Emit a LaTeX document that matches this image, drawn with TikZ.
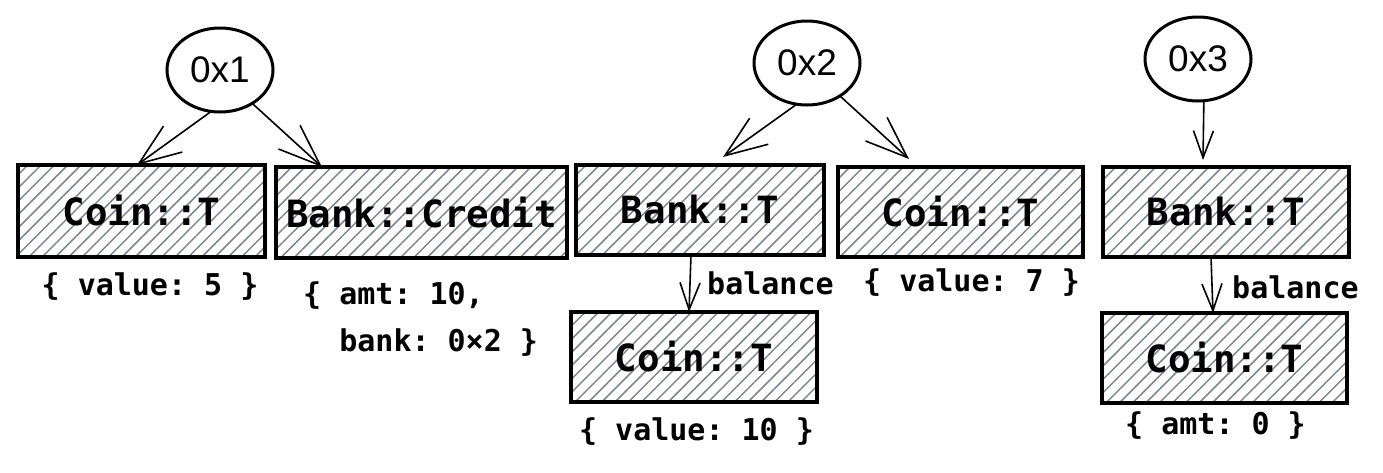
\documentclass[tikz,border=0pt]{standalone}
\usepackage{fontspec}
\setmonofont{DejaVu Sans Mono}
\setsansfont{Liberation Sans}
\usetikzlibrary{arrows.meta,patterns.meta,shapes.geometric}
\definecolor{hatch}{RGB}{125,133,142}
\begin{document}
\begin{tikzpicture}[x=1pt,y=-1pt,
  obj/.style={draw=black, line width=3.8pt, minimum width=246pt, minimum height=90pt,
    inner sep=0pt, outer sep=0pt,
    pattern={Lines[angle=45,distance=9.4pt,line width=1.5pt]}, pattern color=hatch,
    font=\fontsize{37.5}{40}\selectfont\ttfamily\bfseries},
  addr/.style={ellipse, draw=black, line width=3pt, minimum width=106pt, minimum height=84pt,
    inner sep=0pt, outer sep=0pt, font=\fontsize{37}{40}\selectfont\sffamily},
  lbl/.style={inner sep=0pt, font=\fontsize{30}{47}\selectfont\ttfamily\bfseries},
  longarr/.style={line width=1.6pt, -{Straight Barb[length=42pt,width=32pt]}},
  shortarr/.style={line width=1.6pt, -{Straight Barb[length=27pt,width=20pt]}},
]
\useasboundingbox (0,0) rectangle (1383,472);

% address ellipses
\node[addr] (e1) at (220,70) {0x1};
\node[addr] (e2) at (807,63) {0x2};
\node[addr] (e3) at (1198,59) {0x3};

% objects
\node[obj, minimum width=247pt, minimum height=92pt] (c1) at (141.5,211) {Coin::T};
\node[obj, minimum width=291pt, minimum height=91pt] (bc) at (421.5,212.5) {Bank::Credit};
\node[obj, minimum width=248pt] (b2) at (700,210) {Bank::T};
\node[obj, minimum width=245pt] (c2) at (960.5,212) {Coin::T};
\node[obj] (b3) at (1226,212) {Bank::T};
\node[obj] (c2l) at (694,357) {Coin::T};
\node[obj, minimum width=245pt] (c3l) at (1224.5,358) {Coin::T};

% field labels
\node[lbl] (v5) at (150,287) {\{ value: 5 \}};
\node[lbl, anchor=base west, align=left] (credit) at (303,351) {\{ amt: 10,\\\phantom{\{ }bank: 0×2 \}};
\node[lbl, anchor=west] (bal2) at (707,283) {balance};
\node[lbl] (v7) at (971.5,283) {\{ value: 7 \}};
\node[lbl] (v10) at (696.5,432) {\{ value: 10 \}};
\node[lbl, anchor=west] (bal3) at (1232,287) {balance};
\node[lbl] (a0) at (1215.5,426) {\{ amt: 0 \}};

% connectors
\draw[longarr] (e1.258) -- ([xshift=-4.5pt]c1.north);
\draw[longarr] (e1.-46) -- ([xshift=46pt]bc.north west);
\draw[longarr] (e2.-104) -- ([xshift=23pt,yshift=8pt]b2.north);
\draw[longarr] (e2.-45) -- ([xshift=71pt,yshift=8pt]c2.north west);
\draw[shortarr] (e3.-82) -- ([xshift=-23pt,yshift=7pt]b3.north);
\draw[shortarr] ([xshift=-9pt]b2.south) -- ([xshift=-5pt]c2l.north);
\draw[shortarr] ([xshift=-15pt]b3.south) -- ([xshift=-11.5pt]c3l.north);
\end{tikzpicture}
\end{document}
